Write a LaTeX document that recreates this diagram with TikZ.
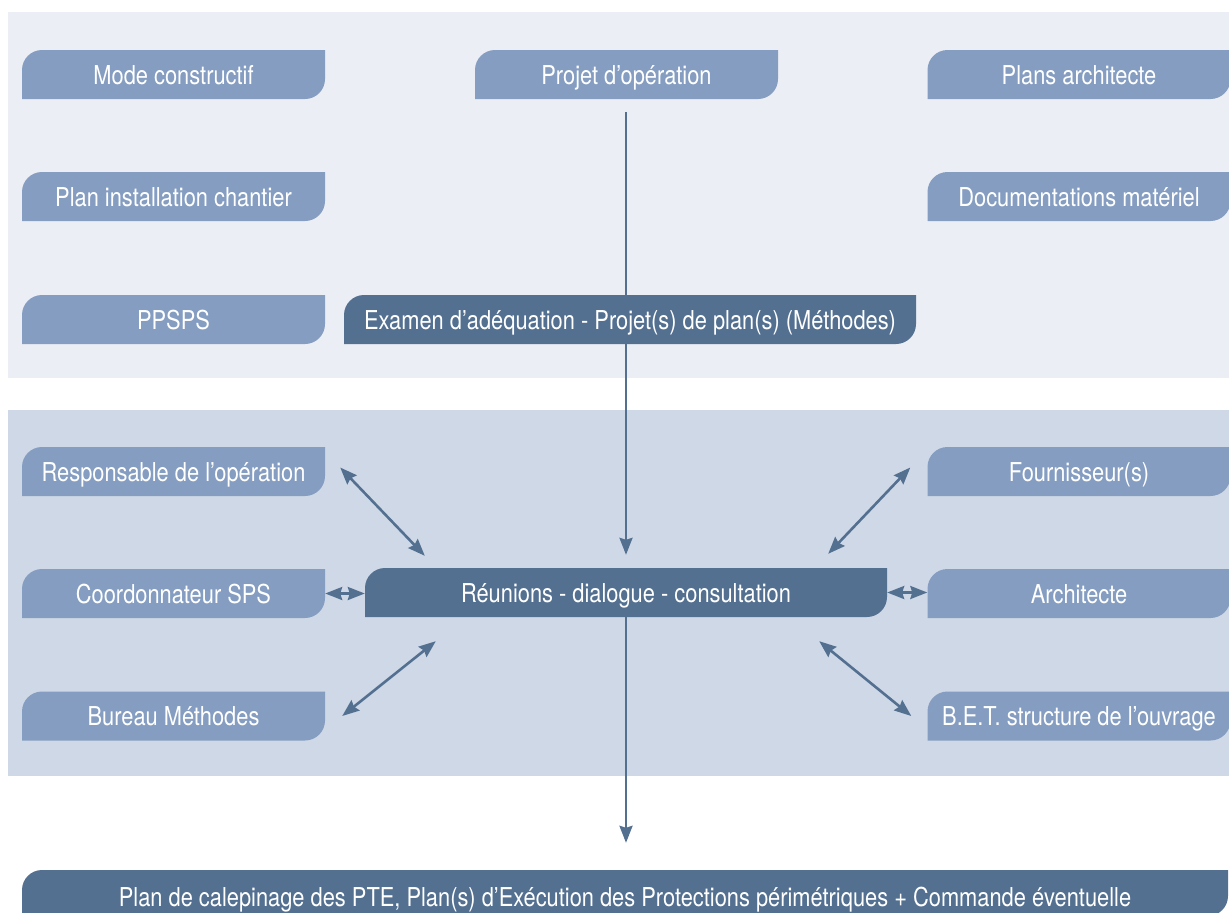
\documentclass[tikz,border=0pt]{standalone}
\usepackage{fontspec}
\setmainfont{TeX Gyre Heros}[FakeStretch=0.84]
\definecolor{PanelTop}{HTML}{EBEEF4}
\definecolor{PanelMid}{HTML}{CFD8E6}
\definecolor{BoxLight}{HTML}{849DC1}
\definecolor{BoxDark}{HTML}{537091}
\usetikzlibrary{arrows.meta,calc,backgrounds}

\begin{document}
\begin{tikzpicture}[x=1pt,y=-1pt,
        box/.style={minimum width=303pt,minimum height=49pt,inner sep=0pt,
                    text=white,font=\fontsize{26}{30}\selectfont,
                    text height=19pt,text depth=0pt,
                    path picture={
                      \fill[#1] (path picture bounding box.south west)
                        -- ([yshift=-20pt]path picture bounding box.north west)
                        arc[start angle=180,end angle=90,radius=20pt]
                        -- (path picture bounding box.north east)
                        -- ([yshift=20pt]path picture bounding box.south east)
                        arc[start angle=0,end angle=-90,radius=20pt]
                        -- cycle;}},
        box/.default=BoxLight,
        link/.style={line width=2.6pt,BoxDark},
        tip/.style={-{Stealth[length=17pt,width=13pt,inset=2pt]}},
        both/.style={{Stealth[length=17pt,width=13pt,inset=2pt]}-{Stealth[length=17pt,width=13pt,inset=2pt]}}]

        \useasboundingbox (0,0) rectangle (1229,913);

        % inputs
        \node[box] (mode)    at (173.5,74.5)  {Mode constructif};
        \node[box] (projet)  at (626.5,74.5)  {Projet d’opération};
        \node[box] (plans)   at (1079,74.5)   {Plans architecte};
        \node[box] (install) at (173.5,196.5) {Plan installation chantier};
        \node[box] (docs)    at (1079,196.5)  {Documentations matériel};
        \node[box] (ppsps)   at (173.5,319.5) {PPSPS};
        \node[box=BoxDark,minimum width=572pt] (examen) at (630,319.5)
              {Examen d’adéquation - Projet(s) de plan(s) (Méthodes)};

        % partners
        \node[box] (resp)   at (173.5,471.5) {Responsable de l’opération};
        \node[box] (coord)  at (173.5,593.5) {Coordonnateur SPS};
        \node[box] (bureau) at (173.5,716)   {Bureau Méthodes};
        \node[box] (fourn)  at (1079,471.5)  {Fournisseur(s)};
        \node[box] (archi)  at (1079,593.5)  {Architecte};
        \node[box] (bet)    at (1079,716)    {B.E.T. structure de l’ouvrage};
        \node[box=BoxDark,minimum width=522pt] (reunion) at (626,592.5)
              {Réunions - dialogue - consultation};

        % result
        \node[box=BoxDark,minimum width=1206pt,minimum height=46pt,text height=26pt] (plan) at (625,893)
              {Plan de calepinage des PTE, Plan(s) d’Exécution des Protections périmétriques + Commande éventuelle};

        % bands and main flow behind the boxes
        \begin{scope}[on background layer]
          \fill[white] (0,0) rectangle (1229,913);
          \fill[PanelTop] (8,12) rectangle (1229,378);
          \fill[PanelMid] (8,410) rectangle (1229,776);
          \draw[link,tip,shorten <=13pt,shorten >=13pt]
            (projet.south -| reunion.north) -- (reunion.north);
        \end{scope}
        \draw[link,tip,shorten >=27pt]
          (reunion.south) -- (reunion.south |- plan.north);

        % arrow ends
        \coordinate (r1) at ($(resp.east)+(15,-4)$);
        \coordinate (r2) at ($(reunion.north west)+(60,-12)$);
        \coordinate (f1) at ($(fourn.west)+(-17,-4)$);
        \coordinate (f2) at ($(reunion.north east)+(-59,-14)$);
        \coordinate (b1) at ($(bureau.east)+(17,0)$);
        \coordinate (b2) at ($(reunion.south west)+(71,24)$);
        \coordinate (e1) at ($(bet.west)+(-16,0)$);
        \coordinate (e2) at ($(reunion.south east)+(-68,24)$);

        \foreach \a/\b in {r1/r2,f1/f2,b1/b2,e1/e2}{
          \draw[link,both] (\a) -- (\b);
        }
        \draw[link,both] (coord.east) -- (coord.east -| reunion.west);
        \draw[link,both] (reunion.east) -- (reunion.east -| archi.west);
      \end{tikzpicture}
\end{document}
